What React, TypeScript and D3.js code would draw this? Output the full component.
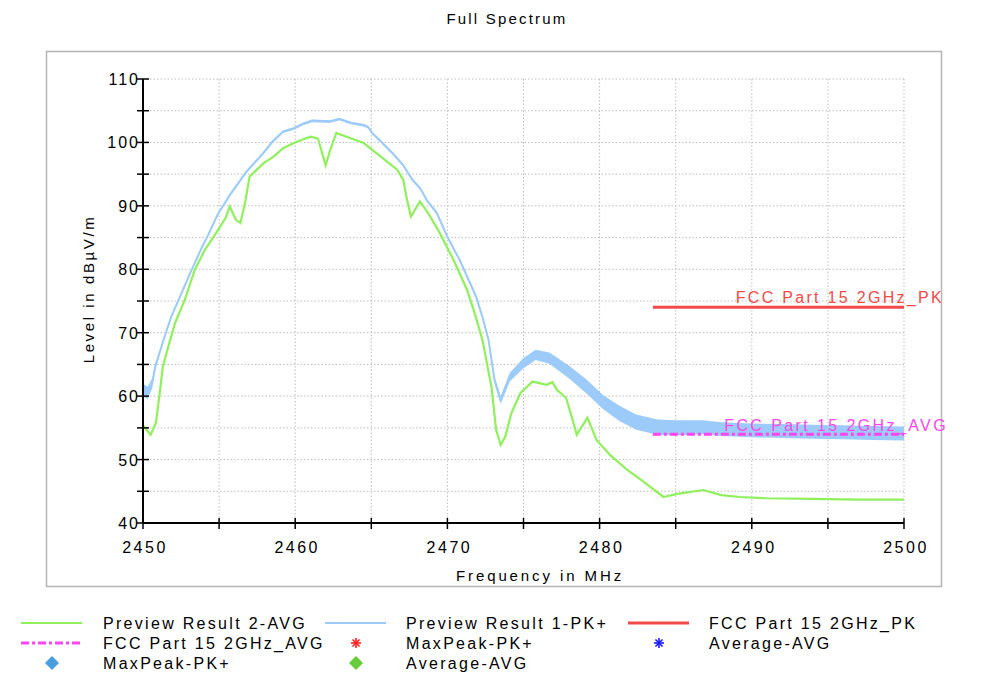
import React from "react";
import * as d3 from "d3";

// ---------- data ----------
const pkFreq = [2450, 2450.3, 2450.6, 2450.8, 2451.3, 2451.85, 2452.43, 2453.1, 2453.9, 2454.3, 2454.9, 2455.7, 2456.8, 2457.9, 2458.5, 2459.2, 2459.9, 2460.5, 2461.1, 2462.3, 2462.9, 2463.6, 2464.5, 2464.8, 2465.05, 2465.4, 2466.4, 2467.1, 2467.7, 2468.2, 2468.7, 2469.3, 2470, 2470.8, 2471.9, 2472.3, 2472.7, 2473.1, 2473.5, 2474.1, 2475, 2475.8, 2476.7, 2478, 2479.2, 2480.2, 2481.3, 2482.4, 2483.8, 2485, 2486.8, 2488, 2490, 2492, 2494, 2496, 2498, 2500];
const pkLevel = [61, 60.5, 62, 64.6, 68.5, 72.5, 75.7, 79.4, 83.6, 85.5, 88.6, 91.7, 95.4, 98.3, 100.1, 101.7, 102.2, 102.9, 103.4, 103.3, 103.7, 103.1, 102.7, 102.4, 101.5, 100.7, 98.3, 96.4, 94.1, 92.8, 90.7, 88.9, 85.1, 81.5, 75.6, 72.5, 68.9, 62.5, 59.4, 63, 65.2, 66.5, 66, 63.8, 61.4, 59.1, 57.3, 55.9, 55.1, 55, 55.1, 54.8, 54.6, 54.5, 54.4, 54.3, 54.2, 54.1];
// half-width of the noise band of the PK trace
const pkNoise = [1, 1, 0.8, 0.5, 0.2, 0.2, 0.2, 0.2, 0.2, 0.2, 0.2, 0.2, 0.2, 0.2, 0.2, 0.2, 0.2, 0.2, 0.2, 0.2, 0.2, 0.2, 0.2, 0.2, 0.2, 0.2, 0.2, 0.2, 0.2, 0.2, 0.2, 0.2, 0.2, 0.2, 0.3, 0.3, 0.4, 0.5, 0.6, 0.7, 0.8, 0.8, 0.9, 1.0, 1.1, 1.1, 1.2, 1.2, 1.2, 1.2, 1.1, 1.1, 1.1, 1.1, 1.1, 1.1, 1.1, 1.1];

const avgFreq = [2450, 2450.3, 2450.5, 2450.85, 2451.1, 2451.3, 2451.65, 2452.1, 2452.75, 2453.4, 2454.05, 2454.8, 2455.45, 2455.7, 2456.1, 2456.4, 2456.7, 2457, 2457.9, 2458.6, 2459.2, 2460.1, 2461, 2461.5, 2462, 2462.3, 2462.7, 2463.6, 2464.5, 2465.6, 2466.7, 2467.1, 2467.3, 2467.6, 2468.2, 2468.8, 2469.5, 2470.4, 2471.3, 2471.8, 2472.3, 2472.9, 2473.2, 2473.5, 2473.8, 2474.2, 2474.8, 2475.6, 2476.5, 2476.9, 2477.2, 2477.8, 2478.2, 2478.5, 2479.2, 2479.8, 2480.7, 2481.8, 2482.9, 2484.2, 2485.1, 2486.8, 2488, 2489.2, 2491, 2494, 2497, 2500];
const avgLevel = [55.4, 54.5, 53.9, 55.8, 60.5, 64.6, 67.7, 71.5, 75.2, 79.9, 83, 85.7, 88.2, 89.9, 87.8, 87.3, 90.4, 94.6, 96.7, 97.8, 99.1, 100.1, 100.9, 100.6, 96.4, 98.8, 101.5, 100.7, 99.9, 97.8, 95.7, 94.1, 91.5, 88.3, 90.7, 88.6, 85.7, 81.5, 76.7, 73, 68.9, 61.4, 54.7, 52.3, 53.6, 57.3, 60.5, 62.3, 61.8, 62.2, 61, 59.7, 56.5, 53.9, 56.6, 53.1, 50.7, 48.4, 46.5, 44.1, 44.6, 45.2, 44.4, 44.1, 43.9, 43.8, 43.7, 43.7];

const limitFreq = [2483.5, 2500];
const limitPK = [74, 74];
const limitAVG = [54, 54];

const xTicks = [2450, 2460, 2470, 2480, 2490, 2500];
const yTicks = [40, 50, 60, 70, 80, 90, 100, 110];

const legendRows = [
  [
    { kind: "line", color: "#8ff05c", dash: "", label: "Preview Result 2-AVG" },
    { kind: "line", color: "#9ccbfa", dash: "", label: "Preview Result 1-PK+" },
    { kind: "line", color: "#f24a4a", dash: "", label: "FCC Part 15 2GHz_PK" },
  ],
  [
    { kind: "line", color: "#ff44f0", dash: "8,3,3,3", label: "FCC Part 15 2GHz_AVG" },
    { kind: "star", color: "#ff2020", dash: "", label: "MaxPeak-PK+" },
    { kind: "star", color: "#1a1aff", dash: "", label: "Average-AVG" },
  ],
  [
    { kind: "diamond", color: "#4a9ee0", dash: "", label: "MaxPeak-PK+" },
    { kind: "diamond", color: "#66cc3a", dash: "", label: "Average-AVG" },
  ],
];

// ---------- layout ----------
const W = 1000;
const H = 674;
const left = 143;
const right = 904;
const top = 79;
const bottom = 523;
const FONT = "'Liberation Sans', Arial, sans-serif";

export default function App() {
  const x = d3.scaleLinear().domain([2450, 2500]).range([left, right]);
  const y = d3.scaleLinear().domain([40, 110]).range([bottom, top]);

  const lineGen = d3
    .line<[number, number]>()
    .x((d) => x(d[0]))
    .y((d) => y(d[1]));
  const areaGen = d3
    .area<[number, number, number]>()
    .x((d) => x(d[0]))
    .y0((d) => y(d[1] - d[2]))
    .y1((d) => y(d[1] + d[2]));

  const pkPts = pkFreq.map((f, i) => [f, pkLevel[i]] as [number, number]);
  const pkBand = pkFreq.map((f, i) => [f, pkLevel[i], pkNoise[i]] as [number, number, number]);
  const avgPts = avgFreq.map((f, i) => [f, avgLevel[i]] as [number, number]);
  const pkLim = limitFreq.map((f, i) => [f, limitPK[i]] as [number, number]);
  const avgLim = limitFreq.map((f, i) => [f, limitAVG[i]] as [number, number]);

  const gridX = d3.range(2455, 2500.1, 5);
  const gridY = d3.range(45, 110.1, 5);
  const minorX = d3.range(2450, 2500.1, 5);
  const minorY = d3.range(40, 110.1, 5);

  const colX = [21, 325, 628];
  const textX = [103, 406, 709];
  const rowY = [623, 643, 663];

  const star = (cx: number, cy: number, color: string) => {
    const r = 5;
    const segs = [0, 45, 90, 135].map((a) => {
      const rad = (a * Math.PI) / 180;
      return (
        <line
          key={a}
          x1={cx - r * Math.cos(rad)}
          y1={cy - r * Math.sin(rad)}
          x2={cx + r * Math.cos(rad)}
          y2={cy + r * Math.sin(rad)}
          stroke={color}
          strokeWidth={1.6}
        />
      );
    });
    return <g>{segs}</g>;
  };

  return (
    <svg
      width={W}
      height={H}
      style={{ position: "absolute", left: 0, top: 0, background: "#fff" }}
      fontFamily={FONT}
    >
      <rect x={0} y={0} width={W} height={H} fill="#fff" />
      {/* title */}
      <text x={507} y={24} textAnchor="middle" fontSize={15} letterSpacing={2.2} fill="#000">
        Full Spectrum
      </text>
      {/* frame */}
      <rect x={46.5} y={51.5} width={895} height={535} fill="none" stroke="#b4b4b4" strokeWidth={1.5} />

      {/* grid */}
      {gridX.map((f) => (
        <line key={"gx" + f} x1={x(f)} x2={x(f)} y1={top} y2={bottom} stroke="#bdbdbd" strokeWidth={1} strokeDasharray="1.5,2" />
      ))}
      {gridY.map((v) => (
        <line key={"gy" + v} x1={left} x2={right} y1={y(v)} y2={y(v)} stroke="#bdbdbd" strokeWidth={1} strokeDasharray="1.5,2" />
      ))}

      {/* traces */}
      <path d={areaGen(pkBand) || ""} fill="#9ccbfa" stroke="none" />
      <path d={lineGen(pkPts) || ""} fill="none" stroke="#9ccbfa" strokeWidth={2} />
      <path d={lineGen(avgPts) || ""} fill="none" stroke="#8ff05c" strokeWidth={2.2} />

      {/* limits */}
      <path d={lineGen(pkLim) || ""} fill="none" stroke="#f24a4a" strokeWidth={3} />
      <path d={lineGen(avgLim) || ""} fill="none" stroke="#ff44f0" strokeWidth={3} strokeDasharray="8,3,3,3" />
      <text x={944} y={303} textAnchor="end" fontSize={16} letterSpacing={2.3} fill="#f24a4a">
        FCC Part 15 2GHz_PK
      </text>
      <text x={948} y={431} textAnchor="end" fontSize={16} letterSpacing={2.4} fill="#ff44f0">
        FCC Part 15 2GHz_AVG
      </text>

      {/* axes */}
      <line x1={left} x2={left} y1={top} y2={bottom} stroke="#000" strokeWidth={2} />
      <line x1={left} x2={right} y1={bottom} y2={bottom} stroke="#000" strokeWidth={2} />
      {minorY.map((v) => (
        <line key={"ty" + v} x1={left - 6} x2={left + 6} y1={y(v)} y2={y(v)} stroke="#000" strokeWidth={1.5} />
      ))}
      {minorX.map((f) => (
        <line key={"tx" + f} x1={x(f)} x2={x(f)} y1={bottom - 5} y2={bottom + 6} stroke="#000" strokeWidth={1.5} />
      ))}
      {yTicks.map((v) => (
        <text key={"ly" + v} x={140} y={y(v) + 6} textAnchor="end" fontSize={16} letterSpacing={2} fill="#000">
          {v}
        </text>
      ))}
      {xTicks.map((f) => (
        <text key={"lx" + f} x={x(f) + 2} y={553} textAnchor="middle" fontSize={16} letterSpacing={2.5} fill="#000">
          {f}
        </text>
      ))}
      <text x={540} y={581} textAnchor="middle" fontSize={15} letterSpacing={2.9} fill="#000">
        Frequency in MHz
      </text>
      <text
        transform={`translate(94, 289) rotate(-90)`}
        textAnchor="middle"
        fontSize={15}
        letterSpacing={2.6}
        fill="#000"
      >
        Level in dBµV/m
      </text>

      {/* legend */}
      {legendRows.map((row, ri) =>
        row.map((item, ci) => {
          const cy = rowY[ri];
          const sx = colX[ci];
          let marker: React.ReactNode = null;
          if (item.kind === "line") {
            marker = (
              <line x1={sx} x2={sx + 61} y1={cy} y2={cy} stroke={item.color} strokeWidth={item.dash ? 3 : item.color === "#f24a4a" ? 3 : 2} strokeDasharray={item.dash || undefined} />
            );
          } else if (item.kind === "star") {
            marker = star(sx + 31, cy, item.color);
          } else {
            const c = sx + 31;
            marker = <path d={`M${c},${cy - 7}L${c + 7},${cy}L${c},${cy + 7}L${c - 7},${cy}Z`} fill={item.color} />;
          }
          return (
            <g key={`lg${ri}-${ci}`}>
              {marker}
              <text x={textX[ci]} y={cy + 6} fontSize={16} letterSpacing={2.3} fill="#000">
                {item.label}
              </text>
            </g>
          );
        })
      )}
    </svg>
  );
}
